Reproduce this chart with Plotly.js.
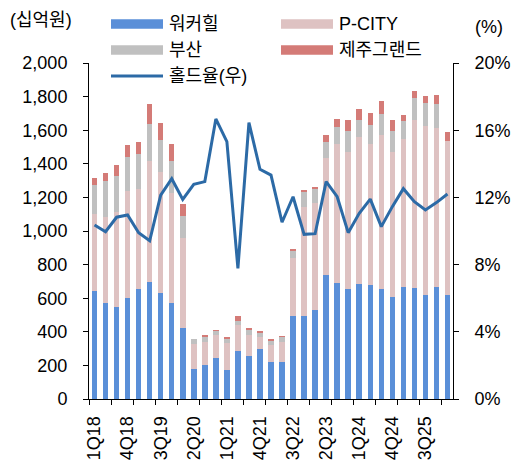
<!DOCTYPE html>
<html><head><meta charset="utf-8">
<script src="https://cdn.plot.ly/plotly-3.0.1.min.js"></script>
<style>html,body{margin:0;padding:0;background:#fff}#c{width:511px;height:462px}</style>
</head><body><div id="c"></div>
<script>
const quarters = ["1Q18","2Q18","3Q18","4Q18","1Q19","2Q19","3Q19","4Q19","1Q20","2Q20","3Q20","4Q20","1Q21","2Q21","3Q21","4Q21","1Q22","2Q22","3Q22","4Q22","1Q23","2Q23","3Q23","4Q23","1Q24","2Q24","3Q24","4Q24","1Q25","2Q25","3Q25","4Q25","1Q26"];
const walkerhill = [643,573,548,603,655,698,633,573,423,180,200,246,175,288,258,300,220,220,494,494,530,740,692,655,686,679,653,607,667,659,617,667,617];
const pcity = [458,512,565,635,595,719,720,651,533,145,139,135,156,150,123,71,101,119,345,647,638,694,824,815,873,837,918,863,879,1002,1010,944,919];
const busan = [173,213,214,204,206,220,189,193,133,30,30,24,26,28,28,24,26,30,44,91,80,98,105,125,103,115,127,125,107,131,135,145,0];
const jeju = [40,45,66,70,72,119,99,101,70,4,12,6,12,26,14,8,8,8,8,12,12,41,46,67,66,69,74,64,39,41,43,53,51];
const holdRate = [10.36,9.96,10.82,10.95,9.90,9.42,12.14,13.11,11.88,12.78,12.94,16.67,15.32,7.78,16.45,13.67,13.33,10.52,12.04,9.80,9.84,12.94,12.04,9.90,11.05,11.90,10.26,11.45,12.52,11.75,11.25,11.69,12.20];
const seriesNames = ["워커힐","P-CITY","부산","제주그랜드","홀드율(우)"];
const colors = ["#5A8FD8","#DEC2C2","#C0C0C0","#D47B77","#2C6AA6"];

const idx = quarters.map((q,i)=>i);
const labelIdx = idx.filter(i=>i%3===0);
const FONT = "Liberation Sans, Arial, Noto Sans CJK KR, sans-serif";

const barData = [walkerhill,pcity,busan,jeju];
const traces = barData.map((d,k)=>({
  type:'bar', x:idx, y:d, name:seriesNames[k],
  marker:{color:colors[k]}, showlegend:false, hoverinfo:'skip'
}));
traces.push({type:'scatter', mode:'lines', x:idx, y:holdRate, yaxis:'y2', name:seriesNames[4],
  line:{color:colors[4], width:3}, showlegend:false, hoverinfo:'skip'});

const W=511,H=462, ml=89, mr=58, mt=63, mb=63;
const pw=W-ml-mr, ph=H-mt-mb;
const px = x=>(x-ml)/pw, py = y=>(H-mb-y)/ph;

const shapes=[], annotations=[];
const leg = [
  {i:0, x:111, y:24, type:'bar'},
  {i:1, x:281, y:24, type:'bar'},
  {i:2, x:111, y:50, type:'bar'},
  {i:3, x:281, y:50, type:'bar'},
  {i:4, x:111, y:76, type:'line'}
];
leg.forEach(l=>{
  if(l.type==='bar'){
    shapes.push({type:'rect', xref:'paper', yref:'paper', x0:px(l.x), x1:px(l.x+52), y0:py(l.y-4.7), y1:py(l.y+4.7), fillcolor:colors[l.i], line:{width:0}});
  } else {
    shapes.push({type:'line', xref:'paper', yref:'paper', x0:px(l.x), x1:px(l.x+52), y0:py(l.y), y1:py(l.y), line:{color:colors[l.i], width:3}});
  }
  annotations.push({xref:'paper', yref:'paper', x:px(l.x+56), y:py(l.y), xanchor:'left', yanchor:'middle', text:seriesNames[l.i], showarrow:false, font:{size:18, color:'#000', family:FONT}});
});
annotations.push({xref:'paper', yref:'paper', x:px(41), y:py(20), xanchor:'center', yanchor:'middle', text:'(십억원)', showarrow:false, font:{size:18,color:'#000',family:FONT}});
annotations.push({xref:'paper', yref:'paper', x:px(489), y:py(27), xanchor:'center', yanchor:'middle', text:'(%)', showarrow:false, font:{size:18,color:'#000',family:FONT}});

const layout = {
  width:W, height:H, margin:{l:ml, r:mr, t:mt, b:mb},
  paper_bgcolor:'#fff', plot_bgcolor:'#fff',
  barmode:'stack', bargap:0.5,
  font:{family:FONT, color:'#000', size:18},
  showlegend:false,
  xaxis:{type:'linear', range:[-0.5, quarters.length-0.5], tickmode:'array', tickvals:labelIdx, ticktext:labelIdx.map(i=>quarters[i]),
    tickangle:-90, ticks:'', tickfont:{size:18}, ticklabelstandoff:9, showgrid:false, zeroline:false, showline:true, linecolor:'#000', linewidth:1,
    minor:{ticks:'outside', tick0:-0.5, dtick:2, ticklen:5, tickcolor:'#000', showgrid:false}},
  yaxis:{range:[0,2000], dtick:200, tickformat:',d', ticks:'outside', ticklen:5, tickcolor:'#000', showgrid:false, zeroline:false,
    showline:true, linecolor:'#000', linewidth:1, ticklabelstandoff:12, tickfont:{size:18}},
  yaxis2:{overlaying:'y', side:'right', range:[0,20], dtick:4, ticksuffix:'%', ticks:'outside', ticklen:5, tickcolor:'#000', showgrid:false, zeroline:false,
    showline:true, linecolor:'#000', linewidth:1, ticklabelstandoff:12, tickfont:{size:18}},
  shapes:shapes, annotations:annotations
};
Plotly.newPlot('c', traces, layout, {staticPlot:true, displayModeBar:false});
</script></body></html>
